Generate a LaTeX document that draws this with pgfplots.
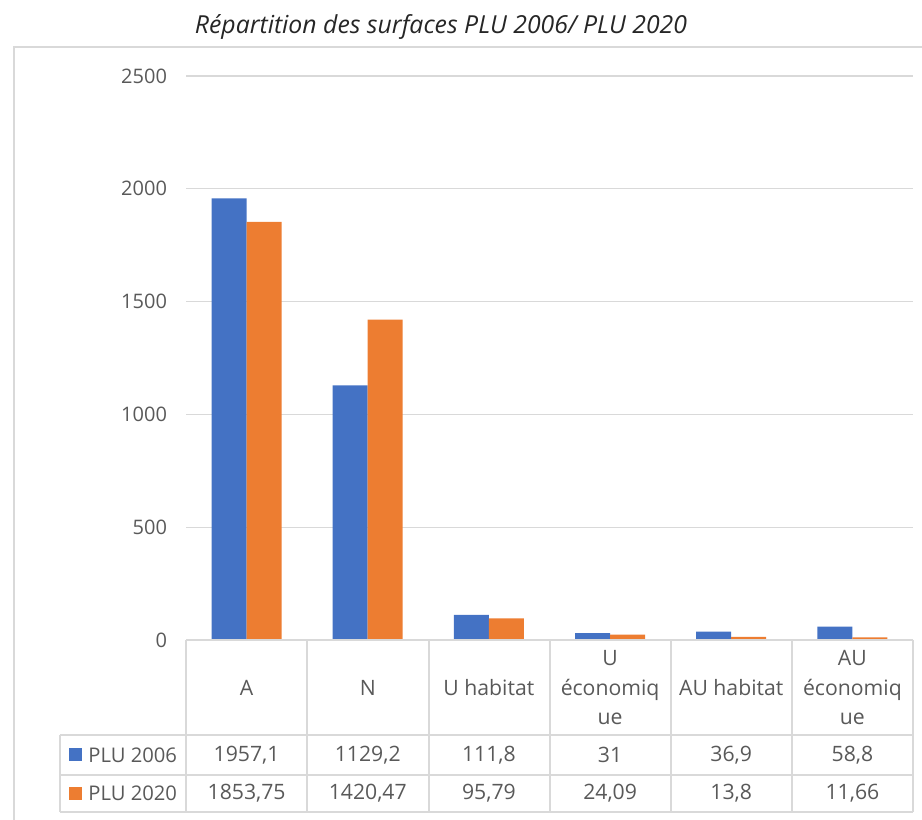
\documentclass[border=0pt]{standalone}
\usepackage{pgfplots}
\pgfplotsset{compat=1.18}
\usepackage{fontspec}
\setmainfont{Open Sans}
\definecolor{blu}{HTML}{4472C4}
\definecolor{org}{HTML}{ED7D31}
\definecolor{grd}{HTML}{D9D9D9}
\definecolor{txt}{HTML}{595959}
\begin{document}
\begin{tikzpicture}
\useasboundingbox (0,0) rectangle (461pt,410pt);
\begin{axis}[at={(93pt,90pt)}, anchor=south west, scale only axis,
  width=363.5pt, height=282pt,
  xmin=-0.5, xmax=5.5, ymin=0, ymax=2500,
  ytick={0,500,1000,1500,2000,2500}, xtick=\empty,
  ymajorgrids, grid style={grd, line width=0.6pt},
  axis line style={draw=none}, major tick length=0pt,
  yticklabel style={font=\fontsize{10}{12}\selectfont, text=txt, xshift=-6pt,
    /pgf/number format/1000 sep={}},
  /pgf/number format/assume math mode=true,
  ybar=0pt, bar width=17.5pt, clip=false]
\addplot[fill=blu, draw=none] coordinates {(0,1957.1) (1,1129.2) (2,111.8) (3,31) (4,36.9) (5,58.8)};
\addplot[fill=org, draw=none] coordinates {(0,1853.75) (1,1420.47) (2,95.79) (3,24.09) (4,13.8) (5,11.66)};
\end{axis}
\begin{scope}[x=0.5pt, y=-0.5pt, shift={(0,410pt)}]
  \draw[grd, line width=0.7pt] (14,820) -- (14,47) -- (922,47);
  \node[font=\itshape\fontsize{12.4}{15}\selectfont, text=black!85] at (441,27) {Répartition des surfaces PLU 2006/ PLU 2020};
  \draw[grd, line width=0.8pt] (186,640) -- (913,640);
  \draw[grd, line width=0.8pt] (60,735) -- (913,735);
  \draw[grd, line width=0.8pt] (60,775) -- (913,775);
  \draw[grd, line width=0.8pt] (60,812) -- (913,812);
  \draw[grd, line width=0.8pt] (60,735) -- (60,812);
  \foreach \xx in {186,307,429,550,671,792,913} \draw[grd, line width=0.8pt] (\xx,640) -- (\xx,812);
  \begin{scope}[every node/.style={font=\fontsize{10.6}{14.75}\selectfont, text=txt, align=center, inner sep=0pt}]
    \node at (246.6,688) {A};
    \node at (367.75,688) {N};
    \node at (488.9,688) {U habitat};
    \node at (610.1,688) {U\\économiq\\ue};
    \node at (731.25,688) {AU habitat};
    \node at (852.4,688) {AU\\économiq\\ue};
    \node[anchor=west, font=\fontsize{10.1}{12}\selectfont] at (88,755) {PLU 2006};
    \node[anchor=west, font=\fontsize{10.1}{12}\selectfont] at (88,793) {PLU 2020};
    \foreach \xx/\v in {246.6/{1957,1},367.75/{1129,2},488.9/{111,8},610.1/{31},731.25/{36,9},852.4/{58,8}} \node at (\xx,755) {\v};
    \foreach \xx/\v in {246.6/{1853,75},367.75/{1420,47},488.9/{95,79},610.1/{24,09},731.25/{13,8},852.4/{11,66}} \node at (\xx,793) {\v};
  \end{scope}
  \fill[blu] (69,748) rectangle (82,761);
  \fill[org] (69,787) rectangle (82,800);
\end{scope}
\end{tikzpicture}
\end{document}
